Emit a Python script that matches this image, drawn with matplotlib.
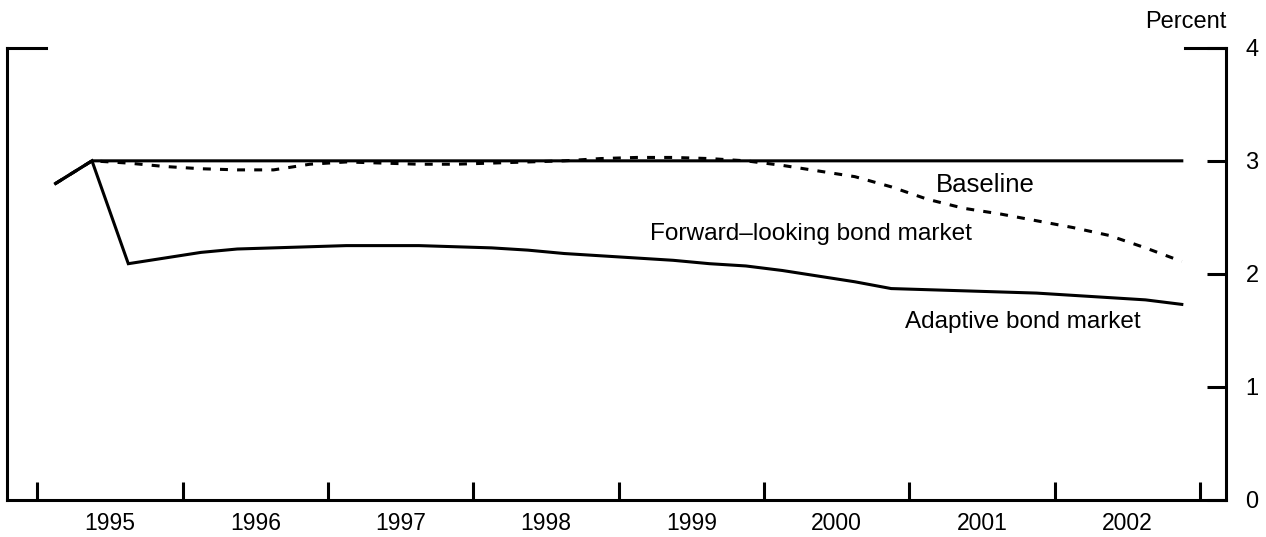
import numpy as np
import matplotlib
matplotlib.use("Agg")
import matplotlib.pyplot as plt

plt.rcParams['font.family'] = ['Liberation Sans', 'DejaVu Sans']

# quarterly mid-points, 1995Q1 .. 2002Q4
quarters = [1995.125 + 0.25 * k for k in range(32)]

baseline = [2.80] + [3.00] * 31

forward_looking = [2.80, 3.00, 2.98, 2.95, 2.93, 2.92, 2.92, 2.97,
                   2.99, 2.98, 2.97, 2.97, 2.98, 2.99, 3.00, 3.02,
                   3.03, 3.03, 3.02, 3.00, 2.96, 2.91, 2.86, 2.77,
                   2.66, 2.58, 2.53, 2.47, 2.41, 2.34, 2.23, 2.11]

adaptive = [2.80, 3.00, 2.09, 2.14, 2.19, 2.22, 2.23, 2.24,
            2.25, 2.25, 2.25, 2.24, 2.23, 2.21, 2.18, 2.16,
            2.14, 2.12, 2.09, 2.07, 2.03, 1.98, 1.93, 1.87,
            1.86, 1.85, 1.84, 1.83, 1.81, 1.79, 1.77, 1.73]

year_labels = ['1995', '1996', '1997', '1998', '1999', '2000', '2001', '2002']
y_ticks = [0, 1, 2, 3, 4]

fig = plt.figure(figsize=(12.66, 5.37), dpi=100)
ax = fig.add_axes([0.0055, 0.069, 0.963, 0.842])

lw = 2.2
ax.plot(quarters, baseline, color='black', lw=lw, solid_joinstyle='miter')
ax.plot(quarters, adaptive, color='black', lw=lw, solid_joinstyle='miter')
ax.plot(quarters, forward_looking, color='black', lw=lw, ls=(0, (2.6, 3.0)))

ax.set_xlim(1994.79, 2003.18)
ax.set_ylim(0, 4)

# spines
for s in ['left', 'right', 'bottom']:
    ax.spines[s].set_linewidth(2.2)
ax.spines['top'].set_visible(False)
ax.plot([0, 0.032], [1, 1], transform=ax.transAxes, color='black', lw=2.2,
        clip_on=False, solid_capstyle='projecting')
ax.plot([0.966, 1.0], [1, 1], transform=ax.transAxes, color='black', lw=2.2,
        clip_on=False, solid_capstyle='projecting')

# x ticks
years = list(range(1995, 2004))
ax.set_xticks(years)
ax.set_xticklabels([])
ax.set_xticks([int(y) + 0.5 for y in year_labels], minor=True)
ax.set_xticklabels(year_labels, minor=True, fontsize=16.5)
ax.tick_params(axis='x', which='major', direction='in', length=13, width=2.2)
ax.tick_params(axis='x', which='minor', length=0, pad=9)

# y ticks on right
ax.yaxis.tick_right()
ax.set_yticks(y_ticks)
ax.set_yticklabels([str(v) for v in y_ticks], fontsize=17)
ax.tick_params(axis='y', which='major', direction='in', length=14, width=2.2, pad=14)

ax.text(1.0, 1.043, 'Percent', transform=ax.transAxes, ha='right', va='baseline',
        fontsize=17)

ax.text(2001.52, 2.79, 'Baseline', ha='center', va='center', fontsize=18.5)
ax.text(2000.32, 2.35, 'Forward\u2013looking bond market', ha='center', va='center', fontsize=17.6)
ax.text(2001.78, 1.57, 'Adaptive bond market', ha='center', va='center', fontsize=17.5)

fig.savefig('out.png', dpi=100)
